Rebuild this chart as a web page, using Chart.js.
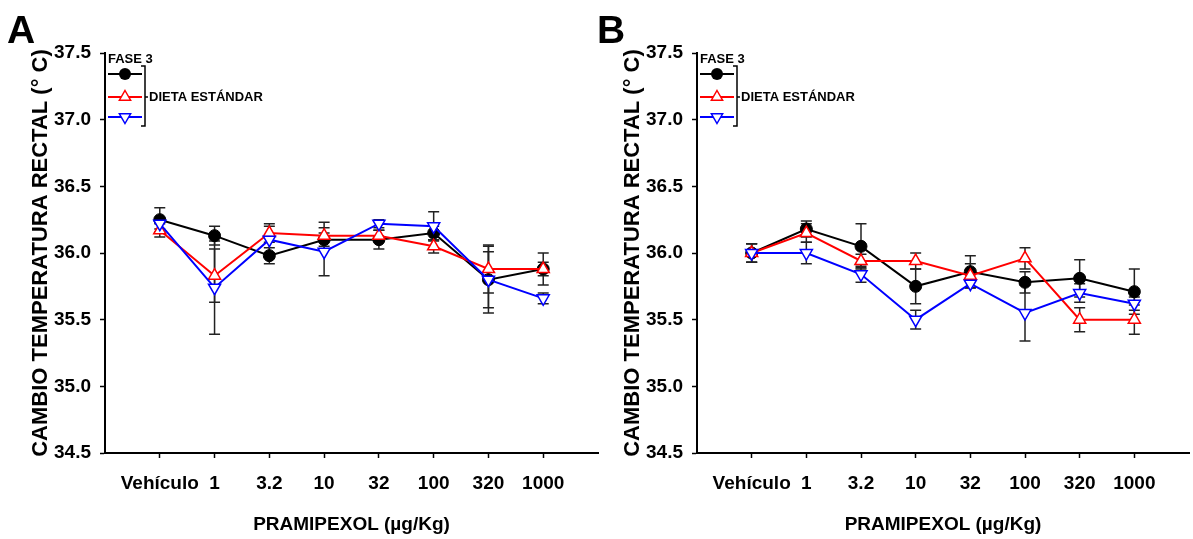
<!DOCTYPE html>
<html>
<head>
<meta charset="utf-8">
<script src="https://cdn.jsdelivr.net/npm/chart.js"></script>
<style>
  body { margin: 0; background: #fff; }
  #wrap { position: relative; width: 1193px; height: 539px; overflow: hidden; }
  canvas { position: absolute; top: 0; }
  .panel { position: absolute; top: 10px; font: bold 39px "Liberation Sans", Arial, sans-serif; line-height: 39px; color: #000; }
</style>
</head>
<body>
<div id="wrap">
  <canvas id="chartA" width="600" height="539" style="left:0px"></canvas>
  <canvas id="chartB" width="601" height="539" style="left:592px"></canvas>
  <div class="panel" style="left:7px">A</div>
  <div class="panel" style="left:597px">B</div>
</div>
<script>
const FONT = '"Liberation Sans", Arial, sans-serif';

const doses = ["Vehículo", "1", "3.2", "10", "32", "100", "320", "1000"];
const yTicks = [34.5, 35.0, 35.5, 36.0, 36.5, 37.0, 37.5];

// panel A
const aBlack = [36.25, 36.13, 35.98, 36.10, 36.10, 36.15, 35.80, 35.88];
const aBlackErr = [0.09, 0.07, 0.06, 0.05, 0.07, 0.05, 0.25, 0.12];
const aRed = [36.17, 35.83, 36.15, 36.13, 36.13, 36.05, 35.88, 35.88];
const aRedErr = [0.05, 0.20, 0.07, 0.10, 0.04, 0.05, 0.18, 0.05];
const aBlue = [36.22, 35.74, 36.10, 36.01, 36.22, 36.20, 35.80, 35.66];
const aBlueErr = [0.04, 0.35, 0.10, 0.18, 0.03, 0.11, 0.21, 0.04];

// panel B
const bBlack = [36.00, 36.18, 36.05, 35.75, 35.86, 35.78, 35.81, 35.71];
const bBlackErr = [0.07, 0.06, 0.17, 0.13, 0.12, 0.08, 0.14, 0.17];
const bRed = [36.00, 36.15, 35.94, 35.94, 35.83, 35.96, 35.50, 35.50];
const bRedErr = [0.07, 0.07, 0.05, 0.06, 0.09, 0.08, 0.09, 0.11];
const bBlue = [36.00, 36.00, 35.84, 35.50, 35.77, 35.55, 35.70, 35.62];
const bBlueErr = [0.07, 0.08, 0.06, 0.07, 0.03, 0.21, 0.07, 0.05];

function pts(arr) {
  return arr.map((v, i) => ({ x: i, y: v }));
}

// error bars drawn under the lines, all in black
const errorBars = {
  id: 'errorBars',
  beforeDatasetsDraw(chart) {
    const ctx = chart.ctx;
    const xs = chart.scales.x, ys = chart.scales.y;
    ctx.save();
    ctx.strokeStyle = '#222';
    ctx.lineWidth = 1.5;
    chart.data.datasets.forEach(ds => {
      ds.data.forEach((p, i) => {
        const px = xs.getPixelForValue(p.x);
        const t = ys.getPixelForValue(p.y + ds.err[i]);
        const b = ys.getPixelForValue(p.y - ds.err[i]);
        ctx.beginPath();
        ctx.moveTo(px, t); ctx.lineTo(px, b);
        ctx.moveTo(px - 5.5, t); ctx.lineTo(px + 5.5, t);
        ctx.moveTo(px - 5.5, b); ctx.lineTo(px + 5.5, b);
        ctx.stroke();
      });
    });
    ctx.restore();
  }
};

function marker(ctx, kind, x, y, color) {
  ctx.beginPath();
  if (kind == 'circle') {
    ctx.arc(x, y, 6, 0, Math.PI * 2);
    ctx.fillStyle = color;
    ctx.fill();
    return;
  }
  const r = 6.5, s = kind == 'up' ? -1 : 1;
  ctx.moveTo(x, y + s * r);
  ctx.lineTo(x + r * 0.866, y - s * r / 2);
  ctx.lineTo(x - r * 0.866, y - s * r / 2);
  ctx.closePath();
  ctx.fillStyle = '#fff';
  ctx.fill();
  ctx.strokeStyle = color;
  ctx.lineWidth = 1.5;
  ctx.stroke();
}

// SigmaPlot style legend in the top-left corner of the plot
const bracketLegend = {
  id: 'bracketLegend',
  afterDraw(chart) {
    const ctx = chart.ctx;
    const L = chart.chartArea.left, T = chart.chartArea.top;
    const rows = [['circle', '#000', 21], ['up', '#f00', 44], ['down', '#00f', 64]];
    ctx.save();
    ctx.font = 'bold 13px ' + FONT;
    ctx.fillStyle = '#000';
    ctx.textBaseline = 'middle';
    ctx.fillText('FASE 3', L + 3, T + 6);
    rows.forEach(r => {
      ctx.strokeStyle = r[1];
      ctx.lineWidth = 2;
      ctx.beginPath();
      ctx.moveTo(L + 3, T + r[2]); ctx.lineTo(L + 37, T + r[2]);
      ctx.stroke();
      marker(ctx, r[0], L + 20, T + r[2], r[1]);
    });
    ctx.strokeStyle = '#000';
    ctx.lineWidth = 1.5;
    ctx.beginPath();
    ctx.moveTo(L + 36, T + 13); ctx.lineTo(L + 40, T + 13);
    ctx.lineTo(L + 40, T + 73); ctx.lineTo(L + 36, T + 73);
    ctx.moveTo(L + 40, T + 44); ctx.lineTo(L + 43, T + 44);
    ctx.stroke();
    ctx.fillStyle = '#000';
    ctx.fillText('DIETA ESTÁNDAR', L + 44, T + 44);
    ctx.restore();
  }
};

function makeChart(id, black, blackErr, red, redErr, blue, blueErr, rightPad) {
  return new Chart(id, {
    type: 'line',
    data: {
      datasets: [
        {
          data: pts(blue), err: blueErr, order: 0,
          borderColor: '#00f', borderWidth: 2,
          pointStyle: 'triangle', pointRotation: 180, pointRadius: 7,
          pointBackgroundColor: '#fff', pointBorderColor: '#00f', pointBorderWidth: 1.5
        },
        {
          data: pts(red), err: redErr, order: 1,
          borderColor: '#f00', borderWidth: 2,
          pointStyle: 'triangle', pointRadius: 7,
          pointBackgroundColor: '#fff', pointBorderColor: '#f00', pointBorderWidth: 1.5
        },
        {
          data: pts(black), err: blackErr, order: 2,
          borderColor: '#000', borderWidth: 2,
          pointStyle: 'circle', pointRadius: 6,
          pointBackgroundColor: '#000', pointBorderColor: '#000', pointBorderWidth: 1
        }
      ]
    },
    options: {
      responsive: false,
      animation: false,
      layout: { autoPadding: false, padding: { top: 53, right: rightPad, left: 0, bottom: 0 } },
      plugins: { legend: { display: false }, tooltip: { enabled: false } },
      scales: {
        x: {
          type: 'linear', min: -1, max: 8,
          afterFit: s => { s.height = 86; s.paddingLeft = 0; s.paddingRight = 0; },
          ticks: {
            stepSize: 1, autoSkip: false, maxRotation: 0, padding: 14,
            color: '#000', font: { family: FONT, size: 19, weight: 'bold' },
            callback: v => (v >= 0 && v < doses.length) ? doses[v] : ''
          },
          grid: {
            drawOnChartArea: false, tickLength: 5, tickWidth: 1.5,
            tickColor: c => (c.tick && c.tick.value >= 0 && c.tick.value < doses.length) ? '#000' : 'rgba(0,0,0,0)'
          },
          border: { color: '#000', width: 2 },
          title: {
            display: true, text: 'PRAMIPEXOL (µg/Kg)', color: '#000',
            font: { family: FONT, size: 19, weight: 'bold' }, padding: { top: 0, bottom: 3 }
          }
        },
        y: {
          min: yTicks[0], max: yTicks[yTicks.length - 1],
          afterFit: s => { s.width = 105; },
          afterBuildTicks: s => { s.ticks = yTicks.map(v => ({ value: v })); },
          ticks: {
            padding: 9, color: '#000',
            font: { family: FONT, size: 19, weight: 'bold' },
            callback: v => v.toFixed(1)
          },
          grid: { drawOnChartArea: false, tickLength: 5, tickWidth: 1.5, tickColor: '#000' },
          border: { color: '#000', width: 2 },
          title: {
            display: true, text: 'CAMBIO TEMPERATURA RECTAL (° C)', color: '#000',
            font: { family: FONT, size: 22, weight: 'bold' }, padding: { top: 28, bottom: 0 }
          }
        }
      }
    },
    plugins: [errorBars, bracketLegend]
  });
}

makeChart('chartA', aBlack, aBlackErr, aRed, aRedErr, aBlue, aBlueErr, 2);
makeChart('chartB', bBlack, bBlackErr, bRed, bRedErr, bBlue, bBlueErr, 4);
</script>
</body>
</html>
